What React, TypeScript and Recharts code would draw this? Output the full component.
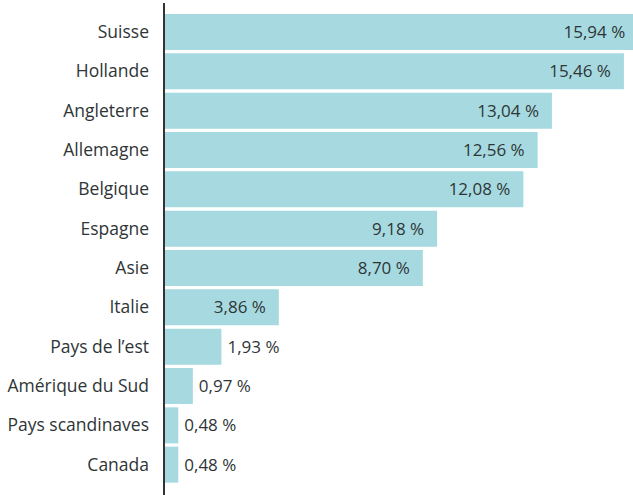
import { BarChart, Bar, XAxis, YAxis, LabelList } from "recharts";

const countries = [
  "Suisse",
  "Hollande",
  "Angleterre",
  "Allemagne",
  "Belgique",
  "Espagne",
  "Asie",
  "Italie",
  "Pays de l\u2019est",
  "Amérique du Sud",
  "Pays scandinaves",
  "Canada",
];
const shares = [15.94, 15.46, 13.04, 12.56, 12.08, 9.18, 8.7, 3.86, 1.93, 0.97, 0.48, 0.48];

const data = countries.map((name, i) => ({ name, value: shares[i] }));

const TEXT = "#2f3536";
const FONT = "'Open Sans', sans-serif";

const fmt = (v: number) => v.toFixed(2).replace(".", ",") + " %";

const ValueLabel = (props: any) => {
  const { x, y, width, height, value } = props;
  const inside = value >= 3;
  const cy = y + height / 2;
  return (
    <text
      x={inside ? x + width - 13 : x + width + 6}
      y={cy}
      dy="0.36em"
      textAnchor={inside ? "end" : "start"}
      fill={TEXT}
      fontSize={17}
      fontWeight={500}
      fontFamily={FONT}
    >
      {fmt(value)}
    </text>
  );
};

export default function App() {
  return (
    <div style={{ position: "absolute", top: 0, left: 0, width: 633, height: 495, overflow: "hidden", background: "#fff" }}>
      <BarChart
        width={640}
        height={495}
        data={data}
        layout="vertical"
        margin={{ top: 3, right: 0, bottom: 0, left: 0 }}
        barSize={36}
      >
        <XAxis type="number" domain={[0, 16]} hide />
        <YAxis
          type="category"
          dataKey="name"
          width={164}
          padding={{ top: 9, bottom: 11 }}
          tickLine={false}
          tickSize={0}
          tickMargin={15}
          axisLine={{ stroke: "#333", strokeWidth: 2 }}
          tick={{ fill: TEXT, fontSize: 17.5, fontWeight: 500, fontFamily: FONT }}
          interval={0}
        />
        <Bar dataKey="value" fill="#a6dae0" isAnimationActive={false}>
          <LabelList dataKey="value" content={<ValueLabel />} />
        </Bar>
      </BarChart>
    </div>
  );
}
